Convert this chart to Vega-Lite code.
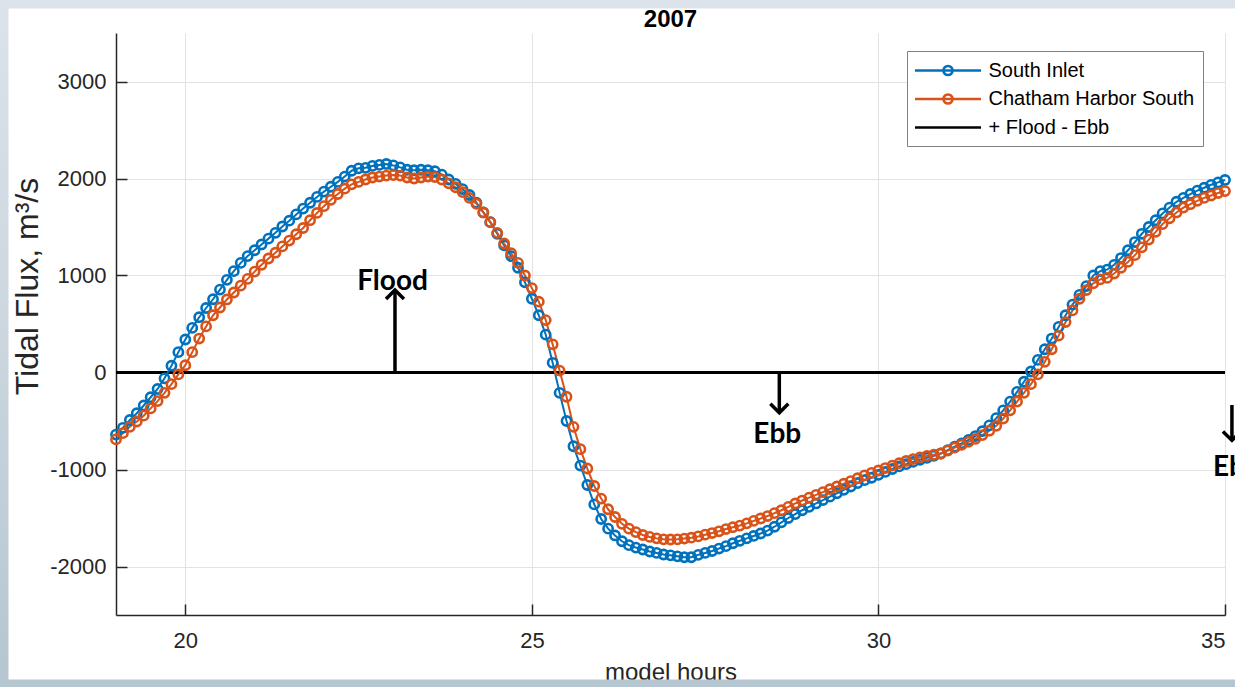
{
"$schema":"https://vega.github.io/schema/vega-lite/v6.json",
"width":1109,"height":582,
"autosize":{"type":"none"},
"padding":{"left":116,"top":33,"right":10,"bottom":72},
"background":"#ffffff",
"title":{"text":"2007","font":"Liberation Sans","fontSize":24,"fontWeight":"bold","color":"#000000","anchor":"middle","frame":"group","baseline":"alphabetic","offset":-35.5,"dy":24},
"config":{"view":{"stroke":null},"font":"Liberation Sans",
 "axis":{"domainColor":"#262626","tickColor":"#262626","labelColor":"#262626","titleColor":"#262626","labelFont":"Liberation Sans","titleFont":"Liberation Sans","labelFontSize":22,"titleFontSize":24,"titleFontWeight":"normal","gridColor":"#e3e3e3","gridWidth":1,"domainWidth":1.5,"tickWidth":1.5,"tickSize":-11}
},
"datasets":{
"flux":[
{"h":19.0,"South Inlet":-640,"Chatham Harbor South":-690},
{"h":19.1,"South Inlet":-570,"Chatham Harbor South":-625},
{"h":19.2,"South Inlet":-490,"Chatham Harbor South":-560},
{"h":19.3,"South Inlet":-420,"Chatham Harbor South":-505},
{"h":19.4,"South Inlet":-340,"Chatham Harbor South":-445},
{"h":19.5,"South Inlet":-255,"Chatham Harbor South":-370},
{"h":19.6,"South Inlet":-170,"Chatham Harbor South":-295},
{"h":19.7,"South Inlet":-60,"Chatham Harbor South":-210},
{"h":19.8,"South Inlet":70,"Chatham Harbor South":-120},
{"h":19.9,"South Inlet":210,"Chatham Harbor South":-20},
{"h":20.0,"South Inlet":340,"Chatham Harbor South":75},
{"h":20.1,"South Inlet":460,"Chatham Harbor South":210},
{"h":20.2,"South Inlet":570,"Chatham Harbor South":350},
{"h":20.3,"South Inlet":665,"Chatham Harbor South":475},
{"h":20.4,"South Inlet":755,"Chatham Harbor South":590},
{"h":20.5,"South Inlet":855,"Chatham Harbor South":670},
{"h":20.6,"South Inlet":955,"Chatham Harbor South":753},
{"h":20.7,"South Inlet":1045,"Chatham Harbor South":825},
{"h":20.8,"South Inlet":1130,"Chatham Harbor South":895},
{"h":20.9,"South Inlet":1200,"Chatham Harbor South":965},
{"h":21.0,"South Inlet":1260,"Chatham Harbor South":1040},
{"h":21.1,"South Inlet":1320,"Chatham Harbor South":1110},
{"h":21.2,"South Inlet":1380,"Chatham Harbor South":1175},
{"h":21.3,"South Inlet":1440,"Chatham Harbor South":1235},
{"h":21.4,"South Inlet":1505,"Chatham Harbor South":1300},
{"h":21.5,"South Inlet":1565,"Chatham Harbor South":1360},
{"h":21.6,"South Inlet":1630,"Chatham Harbor South":1425},
{"h":21.7,"South Inlet":1690,"Chatham Harbor South":1490},
{"h":21.8,"South Inlet":1750,"Chatham Harbor South":1570},
{"h":21.9,"South Inlet":1810,"Chatham Harbor South":1645},
{"h":22.0,"South Inlet":1865,"Chatham Harbor South":1715},
{"h":22.1,"South Inlet":1915,"Chatham Harbor South":1780},
{"h":22.2,"South Inlet":1965,"Chatham Harbor South":1840},
{"h":22.3,"South Inlet":2020,"Chatham Harbor South":1895},
{"h":22.4,"South Inlet":2080,"Chatham Harbor South":1940},
{"h":22.5,"South Inlet":2105,"Chatham Harbor South":1965},
{"h":22.6,"South Inlet":2110,"Chatham Harbor South":1990},
{"h":22.7,"South Inlet":2130,"Chatham Harbor South":2010},
{"h":22.8,"South Inlet":2140,"Chatham Harbor South":2020},
{"h":22.9,"South Inlet":2150,"Chatham Harbor South":2030},
{"h":23.0,"South Inlet":2135,"Chatham Harbor South":2035},
{"h":23.1,"South Inlet":2115,"Chatham Harbor South":2030},
{"h":23.2,"South Inlet":2090,"Chatham Harbor South":2010},
{"h":23.3,"South Inlet":2085,"Chatham Harbor South":2000},
{"h":23.4,"South Inlet":2090,"Chatham Harbor South":2010},
{"h":23.5,"South Inlet":2085,"Chatham Harbor South":2020},
{"h":23.6,"South Inlet":2075,"Chatham Harbor South":2015},
{"h":23.7,"South Inlet":2040,"Chatham Harbor South":1990},
{"h":23.8,"South Inlet":1990,"Chatham Harbor South":1950},
{"h":23.9,"South Inlet":1945,"Chatham Harbor South":1910},
{"h":24.0,"South Inlet":1890,"Chatham Harbor South":1860},
{"h":24.1,"South Inlet":1830,"Chatham Harbor South":1800},
{"h":24.2,"South Inlet":1750,"Chatham Harbor South":1740},
{"h":24.3,"South Inlet":1650,"Chatham Harbor South":1650},
{"h":24.4,"South Inlet":1550,"Chatham Harbor South":1550},
{"h":24.5,"South Inlet":1430,"Chatham Harbor South":1440},
{"h":24.6,"South Inlet":1310,"Chatham Harbor South":1330},
{"h":24.7,"South Inlet":1200,"Chatham Harbor South":1230},
{"h":24.8,"South Inlet":1080,"Chatham Harbor South":1130},
{"h":24.9,"South Inlet":930,"Chatham Harbor South":1000},
{"h":25.0,"South Inlet":760,"Chatham Harbor South":870},
{"h":25.1,"South Inlet":590,"Chatham Harbor South":730},
{"h":25.2,"South Inlet":390,"Chatham Harbor South":540},
{"h":25.3,"South Inlet":100,"Chatham Harbor South":290},
{"h":25.4,"South Inlet":-210,"Chatham Harbor South":20},
{"h":25.5,"South Inlet":-500,"Chatham Harbor South":-250},
{"h":25.6,"South Inlet":-760,"Chatham Harbor South":-560},
{"h":25.7,"South Inlet":-960,"Chatham Harbor South":-790},
{"h":25.8,"South Inlet":-1160,"Chatham Harbor South":-990},
{"h":25.9,"South Inlet":-1360,"Chatham Harbor South":-1170},
{"h":26.0,"South Inlet":-1510,"Chatham Harbor South":-1300},
{"h":26.1,"South Inlet":-1610,"Chatham Harbor South":-1410},
{"h":26.2,"South Inlet":-1680,"Chatham Harbor South":-1490},
{"h":26.3,"South Inlet":-1740,"Chatham Harbor South":-1560},
{"h":26.4,"South Inlet":-1780,"Chatham Harbor South":-1610},
{"h":26.5,"South Inlet":-1805,"Chatham Harbor South":-1645},
{"h":26.6,"South Inlet":-1825,"Chatham Harbor South":-1675},
{"h":26.7,"South Inlet":-1845,"Chatham Harbor South":-1695},
{"h":26.8,"South Inlet":-1860,"Chatham Harbor South":-1710},
{"h":26.9,"South Inlet":-1876,"Chatham Harbor South":-1720},
{"h":27.0,"South Inlet":-1885,"Chatham Harbor South":-1722},
{"h":27.1,"South Inlet":-1895,"Chatham Harbor South":-1720},
{"h":27.2,"South Inlet":-1905,"Chatham Harbor South":-1712},
{"h":27.3,"South Inlet":-1905,"Chatham Harbor South":-1703},
{"h":27.4,"South Inlet":-1880,"Chatham Harbor South":-1690},
{"h":27.5,"South Inlet":-1860,"Chatham Harbor South":-1672},
{"h":27.6,"South Inlet":-1840,"Chatham Harbor South":-1655},
{"h":27.7,"South Inlet":-1815,"Chatham Harbor South":-1637},
{"h":27.8,"South Inlet":-1790,"Chatham Harbor South":-1614},
{"h":27.9,"South Inlet":-1760,"Chatham Harbor South":-1595},
{"h":28.0,"South Inlet":-1735,"Chatham Harbor South":-1578},
{"h":28.1,"South Inlet":-1710,"Chatham Harbor South":-1555},
{"h":28.2,"South Inlet":-1685,"Chatham Harbor South":-1530},
{"h":28.3,"South Inlet":-1660,"Chatham Harbor South":-1505},
{"h":28.4,"South Inlet":-1630,"Chatham Harbor South":-1480},
{"h":28.5,"South Inlet":-1590,"Chatham Harbor South":-1450},
{"h":28.6,"South Inlet":-1545,"Chatham Harbor South":-1420},
{"h":28.7,"South Inlet":-1500,"Chatham Harbor South":-1385},
{"h":28.8,"South Inlet":-1460,"Chatham Harbor South":-1350},
{"h":28.9,"South Inlet":-1420,"Chatham Harbor South":-1320},
{"h":29.0,"South Inlet":-1385,"Chatham Harbor South":-1290},
{"h":29.1,"South Inlet":-1350,"Chatham Harbor South":-1262},
{"h":29.2,"South Inlet":-1315,"Chatham Harbor South":-1233},
{"h":29.3,"South Inlet":-1280,"Chatham Harbor South":-1203},
{"h":29.4,"South Inlet":-1245,"Chatham Harbor South":-1175},
{"h":29.5,"South Inlet":-1210,"Chatham Harbor South":-1147},
{"h":29.6,"South Inlet":-1175,"Chatham Harbor South":-1120},
{"h":29.7,"South Inlet":-1140,"Chatham Harbor South":-1090},
{"h":29.8,"South Inlet":-1110,"Chatham Harbor South":-1060},
{"h":29.9,"South Inlet":-1085,"Chatham Harbor South":-1035},
{"h":30.0,"South Inlet":-1055,"Chatham Harbor South":-1010},
{"h":30.1,"South Inlet":-1025,"Chatham Harbor South":-985},
{"h":30.2,"South Inlet":-995,"Chatham Harbor South":-960},
{"h":30.3,"South Inlet":-968,"Chatham Harbor South":-935},
{"h":30.4,"South Inlet":-945,"Chatham Harbor South":-912},
{"h":30.5,"South Inlet":-922,"Chatham Harbor South":-893},
{"h":30.6,"South Inlet":-900,"Chatham Harbor South":-875},
{"h":30.7,"South Inlet":-880,"Chatham Harbor South":-860},
{"h":30.8,"South Inlet":-860,"Chatham Harbor South":-848},
{"h":30.9,"South Inlet":-835,"Chatham Harbor South":-835},
{"h":31.0,"South Inlet":-800,"Chatham Harbor South":-805},
{"h":31.1,"South Inlet":-765,"Chatham Harbor South":-775},
{"h":31.2,"South Inlet":-730,"Chatham Harbor South":-745},
{"h":31.3,"South Inlet":-695,"Chatham Harbor South":-715},
{"h":31.4,"South Inlet":-655,"Chatham Harbor South":-685},
{"h":31.5,"South Inlet":-605,"Chatham Harbor South":-645},
{"h":31.6,"South Inlet":-545,"Chatham Harbor South":-600},
{"h":31.7,"South Inlet":-470,"Chatham Harbor South":-550},
{"h":31.8,"South Inlet":-390,"Chatham Harbor South":-475},
{"h":31.9,"South Inlet":-300,"Chatham Harbor South":-390},
{"h":32.0,"South Inlet":-200,"Chatham Harbor South":-300},
{"h":32.1,"South Inlet":-95,"Chatham Harbor South":-210},
{"h":32.2,"South Inlet":10,"Chatham Harbor South":-120},
{"h":32.3,"South Inlet":130,"Chatham Harbor South":-20},
{"h":32.4,"South Inlet":240,"Chatham Harbor South":110},
{"h":32.5,"South Inlet":350,"Chatham Harbor South":240},
{"h":32.6,"South Inlet":470,"Chatham Harbor South":380},
{"h":32.7,"South Inlet":590,"Chatham Harbor South":520},
{"h":32.8,"South Inlet":700,"Chatham Harbor South":640},
{"h":32.9,"South Inlet":800,"Chatham Harbor South":760},
{"h":33.0,"South Inlet":890,"Chatham Harbor South":850},
{"h":33.1,"South Inlet":1000,"Chatham Harbor South":920},
{"h":33.2,"South Inlet":1045,"Chatham Harbor South":960},
{"h":33.3,"South Inlet":1060,"Chatham Harbor South":975},
{"h":33.4,"South Inlet":1110,"Chatham Harbor South":1020},
{"h":33.5,"South Inlet":1180,"Chatham Harbor South":1080},
{"h":33.6,"South Inlet":1260,"Chatham Harbor South":1140},
{"h":33.7,"South Inlet":1345,"Chatham Harbor South":1210},
{"h":33.8,"South Inlet":1430,"Chatham Harbor South":1290},
{"h":33.9,"South Inlet":1500,"Chatham Harbor South":1370},
{"h":34.0,"South Inlet":1570,"Chatham Harbor South":1450},
{"h":34.1,"South Inlet":1640,"Chatham Harbor South":1530},
{"h":34.2,"South Inlet":1700,"Chatham Harbor South":1590},
{"h":34.3,"South Inlet":1760,"Chatham Harbor South":1650},
{"h":34.4,"South Inlet":1800,"Chatham Harbor South":1700},
{"h":34.5,"South Inlet":1840,"Chatham Harbor South":1735},
{"h":34.6,"South Inlet":1875,"Chatham Harbor South":1770},
{"h":34.7,"South Inlet":1905,"Chatham Harbor South":1800},
{"h":34.8,"South Inlet":1935,"Chatham Harbor South":1825},
{"h":34.9,"South Inlet":1960,"Chatham Harbor South":1850},
{"h":35.0,"South Inlet":1985,"Chatham Harbor South":1870}
],
"arrows":[
{"h":23.025,"y0":0,"y1":850,"dir":"up"},
{"h":28.57,"y0":0,"y1":-415,"dir":"down"},
{"h":35.1,"y0":-335,"y1":-700,"dir":"down"}
],
"notes":[
{"h":22.99,"v":936,"t":"Flood"},
{"h":28.54,"v":-644,"t":"Ebb"},
{"h":35.17,"v":-984,"t":"Ebb"}
]
},
"layer":[
{"data":{"values":[{}]},
 "mark":{"type":"rule","color":"#000000","strokeWidth":3},
 "encoding":{"y":{"datum":0,"type":"quantitative"}}},
{"data":{"name":"flux"},
 "transform":[{"fold":["South Inlet","Chatham Harbor South"],"as":["series","flux"]}],
 "mark":{"type":"line","strokeWidth":2},
 "encoding":{
  "x":{"field":"h","type":"quantitative","scale":{"domain":[19,35],"nice":false,"zero":false},
       "axis":{"values":[20,25,30,35],"format":"d","title":"model hours","labelPadding":26,"titlePadding":9,"grid":true}},
  "y":{"field":"flux","type":"quantitative","scale":{"domain":[-2500,3500],"nice":false,"zero":false},
       "axis":{"values":[-2000,-1000,0,1000,2000,3000],"title":"Tidal Flux, m³/s","labelPadding":21,"titlePadding":5,"grid":true,"titleFontSize":32,"titleY":253,
               "labelExpr":"datum.value < 0 ? '-' + abs(datum.value) : '' + datum.value"}},
  "color":{"field":"series","type":"nominal","scale":{"domain":["South Inlet","Chatham Harbor South","+ Flood - Ebb"],"range":["#0072BD","#D95319","#000000"]},
    "legend":{"title":null,"orient":"none","legendX":791,"legendY":18,"padding":8,"rowPadding":6.5,
      "strokeColor":"#808080","fillColor":"#ffffff","labelFont":"Liberation Sans","labelFontSize":20,"labelColor":"#000000","labelLimit":400,
      "symbolSize":400,"symbolStrokeWidth":2.5,"symbolOffset":21.5,"labelOffset":29,
      "encode":{"symbols":{"update":{"shape":{"signal":"datum.value === '+ Flood - Ebb' ? 'M-3.3,0L3.3,0' : 'M-3.3,0L3.3,0M-0.46,0A0.46,0.46 0 1,1 0.46,0A0.46,0.46 0 1,1 -0.46,0'"},"fill":{"value":"transparent"},"strokeWidth":{"value":2.5}}}}}}
 }},
{"data":{"name":"flux"},
 "transform":[{"fold":["South Inlet","Chatham Harbor South"],"as":["series","flux"]}],
 "mark":{"type":"point","filled":false,"size":85,"strokeWidth":2.6,"opacity":1},
 "encoding":{
  "x":{"field":"h","type":"quantitative"},
  "y":{"field":"flux","type":"quantitative"},
  "order":{"field":"series","type":"ordinal","sort":"descending"},
  "color":{"field":"series","type":"nominal",
    "legend":{"title":null,"orient":"none","legendX":791,"legendY":18,"padding":8,"rowPadding":6.5,
      "strokeColor":"#808080","fillColor":"#ffffff","labelFont":"Liberation Sans","labelFontSize":20,"labelColor":"#000000","labelLimit":400,
      "symbolSize":400,"symbolStrokeWidth":2.5,"symbolOffset":21.5,"labelOffset":29,
      "encode":{"symbols":{"update":{"shape":{"signal":"datum.value === '+ Flood - Ebb' ? 'M-3.3,0L3.3,0' : 'M-3.3,0L3.3,0M-0.46,0A0.46,0.46 0 1,1 0.46,0A0.46,0.46 0 1,1 -0.46,0'"},"fill":{"value":"transparent"},"strokeWidth":{"value":2.5}}}}}}
 }},
{"data":{"name":"arrows"},
 "mark":{"type":"rule","color":"#000000","strokeWidth":3.5},
 "encoding":{
  "x":{"field":"h","type":"quantitative"},
  "y":{"field":"y0","type":"quantitative"},
  "y2":{"field":"y1"}}},
{"data":{"name":"arrows"},
 "mark":{"type":"point","filled":false,"color":"#000000","strokeWidth":3.5,"size":324,"opacity":1},
 "encoding":{
  "x":{"field":"h","type":"quantitative"},
  "y":{"field":"y1","type":"quantitative"},
  "shape":{"field":"dir","type":"nominal","scale":{"domain":["up","down"],"range":["M-1,1L0,0L1,1","M-1,-1L0,0L1,-1"]},"legend":null}}},
{"data":{"name":"notes"},
 "mark":{"type":"text","font":"Lato","fontWeight":"bold","fontSize":28,"color":"#000000","align":"center","baseline":"middle"},
 "encoding":{
  "x":{"field":"h","type":"quantitative"},
  "y":{"field":"v","type":"quantitative"},
  "text":{"field":"t"}}},
{"data":{"values":[{}]},
 "mark":{"type":"rect","filled":false,"strokeWidth":17,"fillOpacity":0,
   "stroke":{"gradient":"linear","x1":0,"y1":0,"x2":0,"y2":1,"stops":[{"offset":0,"color":"#dce3ea"},{"offset":0.5,"color":"#cbd6de"},{"offset":1,"color":"#b5c6d0"}]}},
 "encoding":{
  "x":{"datum":17.3264,"type":"quantitative"},
  "x2":{"datum":36},
  "y":{"datum":3840,"type":"quantitative"},
  "y2":{"datum":-3253}}}
]
}
